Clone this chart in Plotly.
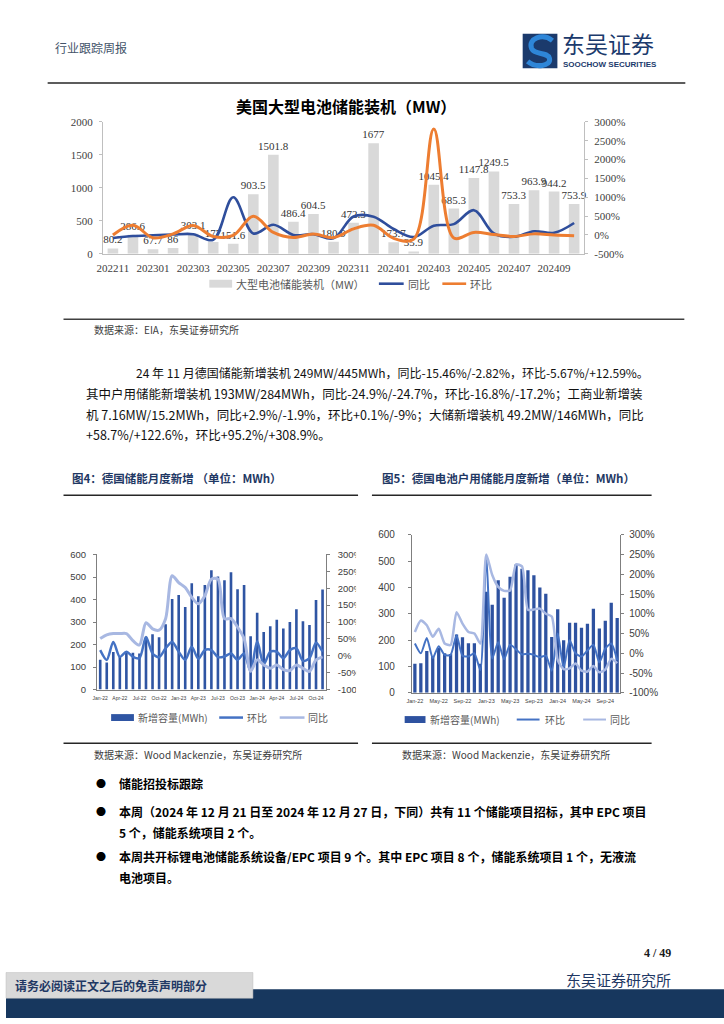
import plotly.graph_objects as go

W, H = 724, 1024
def fx(x): return x / W
def fy(y): return 1 - y / H

CJK = "Noto Sans CJK SC"
SERIF = "Liberation Serif"
SANS = "Liberation Sans"

# ---------------- Chart 1: US large-scale battery storage (MW) ----------------
months_us = ['202211', '202212', '202301', '202302', '202303', '202304', '202305', '202306',
             '202307', '202308', '202309', '202310', '202311', '202312', '202401', '202402',
             '202403', '202404', '202405', '202406', '202407', '202408', '202409', '202410']
us_mw = [80.2, 286.6, 67.7, 86, 303.1, 177, 151.6, 903.5, 1501.8, 486.4, 604.5, 180.9,
         472.3, 1677, 173.7, 35.9, 1045.4, 685.3, 1147.8, 1249.5, 753.3, 963.9, 944.2, 753.9]
us_yoy = [-80, -30, -10, 10, 20, -130, 1000, 40, 270, 0, 20, -90,
          490, 485, 157, -58, 245, 287, 657, 38, -50, 98, 56, 317]
us_mom = [0, 257, -76, 27, 252, -42, -14, 496, 66, -68, 24, -70,
          161, 255, -90, -110, 2812, -80, 67, 9, -40, 28, -2, -20]
us_ticks = months_us[::2]
us_left_ticks = [0, 500, 1000, 1500, 2000]
us_right_ticks = [-500, 0, 500, 1000, 1500, 2000, 2500, 3000]

# ---------------- Fig 4: Germany monthly new storage (MWh) ----------------
months_de = ['Jan-22', 'Feb-22', 'Mar-22', 'Apr-22', 'May-22', 'Jun-22', 'Jul-22', 'Aug-22',
             'Sep-22', 'Oct-22', 'Nov-22', 'Dec-22', 'Jan-23', 'Feb-23', 'Mar-23', 'Apr-23',
             'May-23', 'Jun-23', 'Jul-23', 'Aug-23', 'Sep-23', 'Oct-23', 'Nov-23', 'Dec-23',
             'Jan-24', 'Feb-24', 'Mar-24', 'Apr-24', 'May-24', 'Jun-24', 'Jul-24', 'Aug-24',
             'Sep-24', 'Oct-24', 'Nov-24']
de_mwh = [133, 120, 167, 145, 171, 164, 160, 235, 246, 232, 290, 402, 420, 367, 472, 415, 465,
          530, 502, 486, 521, 446, 464, 237, 341, 256, 281, 310, 271, 300, 357, 303, 287, 398, 445]
de_mom = [17, -12, 41, -3, 12, -3, -7, 56, 7, -4, 22, 41, 12, -12, 27, -9, 17, 17, -4, -2,
          7, -12, 7, -46, 43, -25, 12, 12, -7, 17, 22, -15, -7, 39, 12]
de_yoy = [51, 62, 66, 66, 66, 45, 32, 98, 80, 76, 110, 237, 217, 202, 173, 154, 178, 227, 227, 110,
          110, 85, 51, -46, -12, -27, -37, -27, -41, -44, -27, -37, -46, -12, -3]
de_ticks = months_de[::3]
pct_ticks = [-100, -50, 0, 50, 100, 150, 200, 250, 300]
mwh_ticks = [0, 100, 200, 300, 400, 500, 600]

# ---------------- Fig 5: Germany residential battery storage (MWh) ----------------
hh_mwh = [110, 112, 159, 140, 170, 150, 147, 221, 211, 188, 188, 110, 384, 334, 427, 361, 441,
          487, 471, 465, 446, 400, 376, 212, 317, 200, 266, 266, 247, 262, 319, 244, 274, 342, 284]
hh_mom = [25, 0, 39, -12, 18, -4, -4, 46, -6, -8, 0, -42, 246, -13, 28, -15, 22, 10, -3, -1,
          -4, -10, -6, -44, 50, -37, 33, 0, -8, 7, 22, -23, 12, 25, -17]
hh_yoy = [54, 83, 71, 42, 62, 25, 21, 104, 75, 54, 50, 25, 250, 198, 168, 158, 159, 225, 220, 110,
          111, 113, 100, 93, -17, -40, -38, -26, -44, -46, -32, -48, -41, -14, -25]
hh_ticks = months_de[::4]

C_GRAY_BAR = '#D9D9D9'
C_US_YOY = '#2F4E9C'
C_US_MOM = '#ED7D31'
C_DE_BAR = '#2F55A3'
C_HH_BAR = '#2E52A0'
C_MOM = '#4472C4'
C_YOY = '#A8B8E2'
NAVY = '#1B3A6C'

fig = go.Figure()

# Chart 1 traces
fig.add_trace(go.Bar(x=months_us, y=us_mw, xaxis='x', yaxis='y', width=0.53,
                     marker=dict(color=C_GRAY_BAR, line=dict(width=0)),
                     text=[f'{v:g}' for v in us_mw], textposition='outside', cliponaxis=False,
                     constraintext='none', textfont=dict(family=SERIF, size=11, color='#333333'),
                     name='大型电池储能装机（MW）', showlegend=False))
fig.add_trace(go.Scatter(x=months_us, y=us_yoy, xaxis='x', yaxis='y2', mode='lines',
                         line=dict(color=C_US_YOY, width=2.6, shape='spline', smoothing=1.0),
                         name='同比', showlegend=False))
fig.add_trace(go.Scatter(x=months_us, y=us_mom, xaxis='x', yaxis='y2', mode='lines',
                         line=dict(color=C_US_MOM, width=3, shape='spline', smoothing=1.0),
                         name='环比', showlegend=False))

# Fig 4 traces
fig.add_trace(go.Bar(x=months_de, y=de_mwh, xaxis='x2', yaxis='y3', width=0.4,
                     marker=dict(color=C_DE_BAR, line=dict(width=0)), name='新增容量(MWh)', showlegend=False))
fig.add_trace(go.Scatter(x=months_de, y=de_mom, xaxis='x2', yaxis='y4', mode='lines',
                         line=dict(color=C_MOM, width=2.5, shape='spline', smoothing=0.8),
                         name='环比', showlegend=False))
fig.add_trace(go.Scatter(x=months_de, y=de_yoy, xaxis='x2', yaxis='y4', mode='lines',
                         line=dict(color=C_YOY, width=3, shape='spline', smoothing=0.8),
                         name='同比', showlegend=False))

# Fig 5 traces
fig.add_trace(go.Bar(x=months_de, y=hh_mwh, xaxis='x3', yaxis='y5', width=0.55,
                     marker=dict(color=C_HH_BAR, line=dict(width=0)), name='新增容量(MWh)', showlegend=False))
fig.add_trace(go.Scatter(x=months_de, y=hh_mom, xaxis='x3', yaxis='y6', mode='lines',
                         line=dict(color=C_MOM, width=2, shape='spline', smoothing=0.6),
                         name='环比', showlegend=False))
fig.add_trace(go.Scatter(x=months_de, y=hh_yoy, xaxis='x3', yaxis='y6', mode='lines',
                         line=dict(color=C_YOY, width=2.5, shape='spline', smoothing=0.6),
                         name='同比', showlegend=False))

def yax(dom, rng, vals, side='left', anchor='x', overlay=None, suffix='', font=None,
        lc='#BFBFBF', standoff=4, ticklen=3):
    d = dict(domain=dom, range=rng, tickmode='array', tickvals=vals,
             ticktext=[f'{v}{suffix}' for v in vals], side=side, anchor=anchor,
             showline=True, linecolor=lc, linewidth=1, ticks='outside', ticklen=ticklen, tickcolor=lc,
             showgrid=False, zeroline=False, tickfont=font,
             ticklabelstandoff=standoff, fixedrange=True)
    if overlay:
        d['overlaying'] = overlay
    return d

def xax(dom, anchor, ticks, font, lc, n, standoff):
    return dict(domain=dom, anchor=anchor, type='category', range=[-0.5, n - 0.5],
                tickmode='array', tickvals=ticks, ticktext=ticks, tickangle=0,
                showline=True, linecolor=lc, linewidth=1, ticks='', showgrid=False,
                zeroline=False, tickfont=font, ticklabelstandoff=standoff, fixedrange=True)

f1 = dict(family=SERIF, size=11, color='#404040')
f4 = dict(family=SANS, size=9.5, color='#404040')
f5 = dict(family=SANS, size=10, color='#404040')

d1y = [fy(250.7), fy(117.3)]
d4y = [fy(691.7), fy(555)]
d5y = [fy(695), fy(535)]

layout = dict(
    width=W, height=H, margin=dict(l=0, r=0, t=0, b=0),
    paper_bgcolor='white', plot_bgcolor='rgba(0,0,0,0)', showlegend=False,
    xaxis=xax([fx(97.7), fx(583)], 'y', us_ticks, f1, '#BFBFBF', 24, 4),
    yaxis=yax(d1y, [0, 2000], us_left_ticks, font=f1, anchor='x'),
    yaxis2=yax(d1y, [-500, 3000], us_right_ticks, side='right', anchor='x',
               overlay='y', suffix='%', font=f1),
    xaxis2=xax([fx(91.7), fx(322.5)], 'y3', de_ticks, dict(family=SANS, size=5, color='#404040'),
               '#7F7F7F', 35, 3),
    yaxis3=yax(d4y, [0, 600], mwh_ticks, font=f4, anchor='x2', lc='#7F7F7F', standoff=5),
    yaxis4=yax(d4y, [-100, 300], pct_ticks, side='right', anchor='x2',
               overlay='y3', suffix='%', font=f4, lc='#7F7F7F', standoff=6),
    xaxis3=xax([fx(409.3), fx(619.3)], 'y5', hh_ticks, dict(family=SANS, size=5.5, color='#404040'),
               '#7F7F7F', 35, 3),
    yaxis5=yax(d5y, [0, 600], mwh_ticks, font=f5, anchor='x3', lc='#7F7F7F', standoff=11),
    yaxis6=yax(d5y, [-100, 300], pct_ticks, side='right', anchor='x3',
               overlay='y5', suffix='%', font=f5, lc='#7F7F7F', standoff=3),
)
fig.update_layout(**layout)

shapes = []
annotations = []

def line(x0, y0, x1, y1, color='#262626', width=1.5):
    shapes.append(dict(type='line', xref='paper', yref='paper', x0=fx(x0), y0=fy(y0),
                       x1=fx(x1), y1=fy(y1), line=dict(color=color, width=width), layer='above'))

def rect(x0, y0, x1, y1, fill, lc=None, lw=0):
    shapes.append(dict(type='rect', xref='paper', yref='paper', x0=fx(x0), y0=fy(y0),
                       x1=fx(x1), y1=fy(y1), fillcolor=fill,
                       line=dict(color=lc or fill, width=lw), layer='above'))

def txt(x, y, s, size, color='#000000', bold=False, anchor='left', family=CJK):
    annotations.append(dict(x=fx(x), y=fy(y), xref='paper', yref='paper',
                            text=f'<b>{s}</b>' if bold else s, showarrow=False,
                            xanchor=anchor, yanchor='middle', borderpad=0,
                            font=dict(size=size, color=color, family=family)))

def path_px(cmds):
    parts = []
    for c, pts in cmds:
        parts.append(c + ' ' + ' '.join(f'{fx(x):.5f},{fy(y):.5f}' for x, y in pts))
    return ' '.join(parts)

# ---- Header ----
txt(48, 42, '行业跟踪周报', 12, color='#44546A')
rect(521, 28, 556, 63, NAVY)
shapes.append(dict(type='path', xref='paper', yref='paper', layer='above',
                   path=path_px([('M', [(551, 35)]), ('C', [(541, 27), (526, 33), (530, 43)]),
                                 ('C', [(533, 50), (546, 46), (548, 53)]),
                                 ('C', [(550, 61), (534, 63), (526, 56)])]),
                   line=dict(color='#2E86D8', width=5), fillcolor='rgba(0,0,0,0)'))
txt(560, 37.5, '东吴证券', 23, color=NAVY)
txt(561, 59.5, '<b>SOOCHOW SECURITIES</b>', 8, color=NAVY, family=SANS)
line(42, 78, 685, 78, '#262626', 1.5)

# ---- Chart 1 title, legend, source ----
txt(343, 101, '美国大型电池储能装机（MW）', 16, bold=True, anchor='center')
rect(205, 277, 228, 285, C_GRAY_BAR)
txt(231, 281, '大型电池储能装机（MW）', 11, color='#595959')
line(376, 281, 401, 281, C_US_YOY, 2.6)
txt(404, 281, '同比', 11, color='#595959')
line(440, 281, 464, 281, C_US_MOM, 2.6)
txt(467, 281, '环比', 11, color='#595959')
line(58, 317, 684, 317, '#404040', 1.5)
txt(88, 327, '数据来源：EIA，东吴证券研究所', 10, color='#404040')

# ---- Paragraph ----
para = [
    (130, 371, '24 年 11 月德国储能新增装机 249MW/445MWh，同比-15.46%/-2.82%，环比-5.67%/+12.59%。', 12),
    (80, 392, '其中户用储能新增装机 193MW/284MWh，同比-24.9%/-24.7%，环比-16.8%/-17.2%；工商业新增装', 12.5),
    (80, 413, '机 7.16MW/15.2MWh，同比+2.9%/-1.9%，环比+0.1%/-9%；大储新增装机 49.2MW/146MWh，同比', 12.5),
    (80, 434, '+58.7%/+122.6%，环比+95.2%/+308.9%。', 12.5),
]
for x, y, s, fs in para:
    txt(x, y, s, fs, color='#111111')

# ---- Fig titles ----
txt(66, 478, '图4：德国储能月度新增 （单位：MWh）', 11.5, color='#1F3864', bold=True)
txt(378, 478, '图5：德国电池户用储能月度新增（单位：MWh）', 11.5, color='#1F3864', bold=True)
line(58, 495, 355, 495, '#262626', 1.5)
line(369, 495, 651, 495, '#262626', 1.5)

# clip fig4 right labels at the reference box edge
rect(353, 545, 368, 700, 'white')

# ---- Fig4 legend ----
rect(106, 716.5, 129, 723.5, C_DE_BAR)
txt(132, 720, '新增容量(MWh)', 10, color='#595959')
line(215, 720, 239, 720, C_MOM, 2.5)
txt(242, 720, '环比', 10, color='#595959')
line(276, 720, 301, 720, C_YOY, 2.5)
txt(304, 720, '同比', 10, color='#595959')

# ---- Fig5 legend ----
rect(402, 718.5, 423, 725.5, C_HH_BAR)
txt(427, 722, '新增容量(MWh)', 10, color='#595959')
line(515, 722, 538, 722, C_MOM, 2)
txt(542, 722, '环比', 10, color='#595959')
line(582, 722, 605, 722, C_YOY, 2)
txt(608, 722, '同比', 10, color='#595959')

line(58, 746, 355, 746, '#262626', 1.5)
line(369, 746, 651, 746, '#262626', 1.5)
txt(88, 757, '数据来源：Wood Mackenzie，东吴证券研究所', 10, color='#404040')
txt(398, 757, '数据来源：Wood Mackenzie，东吴证券研究所', 10, color='#404040')

# ---- Bullets ----
bul = [
    (787, '储能招投标跟踪', True),
    (815, '本周（2024 年 12 月 21 日至 2024 年 12 月 27 日，下同）共有 11 个储能项目招标，其中 EPC 项目', True),
    (836, '5 个，储能系统项目 2 个。', False),
    (861, '本周共开标锂电池储能系统设备/EPC 项目 9 个。其中 EPC 项目 8 个，储能系统项目 1 个，无液流', True),
    (882, '电池项目。', False),
]
for y, s, b in bul:
    if b:
        txt(90, y, '●', 10, color='#000000')
    txt(113, y, s, 12, color='#000000', bold=True)

# ---- Footer ----
txt(672, 958, '<b>4 / 49</b>', 12, color='#1a1a1a', anchor='right', family=SERIF)
txt(672, 985, '东吴证券研究所', 15, color='#1F3864', anchor='right')
rect(0, 995, 724, 1024, '#17375E')
rect(0, 978, 249, 1004, '#D9D9D9', '#BFBFBF', 0.5)
txt(8, 991, '请务必阅读正文之后的免责声明部分', 12, color='#1F3864', bold=True)

fig.update_layout(shapes=shapes, annotations=annotations)
fig.write_html('out.html', config={'displayModeBar': False},
               post_script="document.body.style.margin='0px';")
